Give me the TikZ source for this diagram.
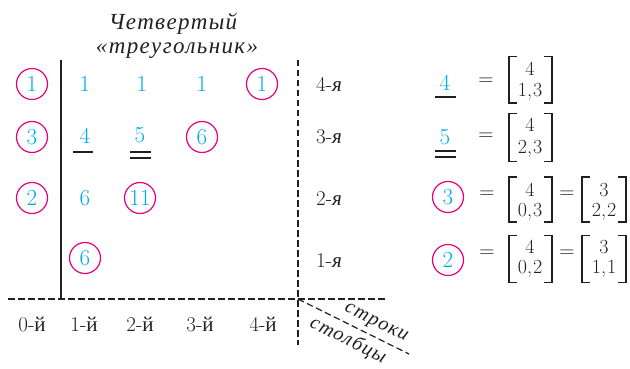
\documentclass[tikz,border=0pt]{standalone}
\usepackage{fontspec}
\newfontfamily\cyr{Liberation Serif}
\newfontfamily\cyrwide{Liberation Serif}[LetterSpace=6]
\definecolor{cy}{RGB}{0,170,235}
\definecolor{mg}{RGB}{230,0,126}
\definecolor{ink}{RGB}{35,31,32}
\begin{document}
\begin{tikzpicture}[x=1pt,y=-1pt,
 num/.style={text=cy,font=\fontsize{23}{25}\selectfont,inner sep=0pt},
 circ/.style={num,draw=mg,circle,line width=1.2pt,minimum size=31pt},
 lbl/.style={text=ink,font=\fontsize{21}{23}\selectfont,inner sep=0pt},
 brt/.style={text=ink,font=\fontsize{20}{22}\selectfont,inner sep=0pt},
 ttl/.style={text=ink,font=\fontsize{23}{26}\cyrwide\itshape,inner sep=0pt},
 axt/.style={text=ink,font=\fontsize{20}{22}\cyrwide\itshape,inner sep=0pt},
 dsh/.style={draw=ink,line width=1.2pt,dash pattern=on 6.5pt off 3.5pt},
 brk/.style={draw=ink,line width=1.3pt},
 ul/.style={draw=ink,line width=1.3pt}]
\useasboundingbox (0,0) rectangle (630,369);
% title
\node[ttl] (t1) at (173,24) {Четвертый};
\node[ttl] (t2) at (177,51) {«треугольник»};
% axes
\coordinate (o) at (298,299);
\coordinate (vtop) at (298,60);
\coordinate (vbot) at (298,345);
\coordinate (hl) at (8,299);
\coordinate (hr) at (388,299);
\coordinate (de) at (409,354);
\coordinate (st) at (61,60);
\coordinate (sb) at (61,299);
\draw[draw=ink,line width=1.2pt] (st) -- (sb);
\draw[dsh] (hl) -- (hr);
\draw[dsh] (vtop) -- (vbot);
\draw[dsh] (o) -- node[pos=0.65,sloped,above=5pt,axt] (rows) {строки}
  node[pos=0.51,sloped,below=5pt,axt] (cols) {столбцы} (de);
% grid numbers
\node[circ] (a40) at (32,84) {1};
\node[num] (a41) at (85,84) {1};
\node[num] (a42) at (142,84) {1};
\node[num] (a43) at (202,84) {1};
\node[circ] (a44) at (262,84) {1};
\node[circ] (a30) at (32,137) {3};
\node[num] (a31) at (85,136) {4};
\node[num] (a32) at (140,135) {5};
\node[circ] (a33) at (202,137) {6};
\node[circ] (a20) at (32,198) {2};
\node[num] (a21) at (85,198) {6};
\node[circ] (a22) at (140,198) {11};
\node[circ] (a11) at (85,258) {6};
\draw[ul] (73,152) -- (93,152);
\draw[ul] (130,152) -- (151,152);
\draw[ul] (130,158) -- (151,158);
% column labels
\node[lbl] (c0) at (32,324) {0-{\cyr й}};
\node[lbl] (c1) at (84,324) {1-{\cyr й}};
\node[lbl] (c2) at (140,324) {2-{\cyr й}};
\node[lbl] (c3) at (200,324) {3-{\cyr й}};
\node[lbl] (c4) at (263,324) {4-{\cyr й}};
% row labels
\node[lbl] (r4) at (329,84) {4-{\cyr\itshape я}};
\node[lbl] (r3) at (329,137) {3-{\cyr\itshape я}};
\node[lbl] (r2) at (329,199) {2-{\cyr\itshape я}};
\node[lbl] (r1) at (329,261) {1-{\cyr\itshape я}};
% equation 1
\node[num] (e1) at (445,83) {4};
\draw[ul] (435,97) -- (456,97);
\node[lbl] (q1) at (486,82) {=};
\draw[brk] (517,56.5) -- (509,56.5) -- (509,103) -- (517,103);
\draw[brk] (544,56.5) -- (552,56.5) -- (552,103) -- (544,103);
\node[brt] (m1a) at (530,69) {4};
\node[brt] (m1b) at (530,92) {1,\kern1pt 3};
% equation 2
\node[num] (e2) at (445,137) {5};
\draw[ul] (435,151) -- (456,151);
\draw[ul] (435,157) -- (456,157);
\node[lbl] (q2) at (486,137) {=};
\draw[brk] (517,113.5) -- (509,113.5) -- (509,161.5) -- (517,161.5);
\draw[brk] (544,113.5) -- (552,113.5) -- (552,161.5) -- (544,161.5);
\node[brt] (m2a) at (530,125) {4};
\node[brt] (m2b) at (530,149) {2,\kern1pt 3};
% equation 3
\node[circ] (e3) at (448,197) {3};
\node[lbl] (q3) at (487,195) {=};
\draw[brk] (517,177) -- (509,177) -- (509,222) -- (517,222);
\draw[brk] (544,177) -- (552,177) -- (552,222) -- (544,222);
\node[brt] (m3a) at (530,190) {4};
\node[brt] (m3b) at (530,212) {0,\kern1pt 3};
\node[lbl] (q3b) at (567,195) {=};
\draw[brk] (590,177) -- (582,177) -- (582,222) -- (590,222);
\draw[brk] (618,177) -- (626,177) -- (626,222) -- (618,222);
\node[brt] (m3c) at (604,190) {3};
\node[brt] (m3d) at (604,212) {2,\kern1pt 2};
% equation 4
\node[circ] (e4) at (448,260) {2};
\node[lbl] (q4) at (487,254) {=};
\draw[brk] (517,235.5) -- (509,235.5) -- (509,282.5) -- (517,282.5);
\draw[brk] (544,235.5) -- (552,235.5) -- (552,282.5) -- (544,282.5);
\node[brt] (m4a) at (530,247) {4};
\node[brt] (m4b) at (530,269) {0,\kern1pt 2};
\node[lbl] (q4b) at (567,254) {=};
\draw[brk] (590,235.5) -- (582,235.5) -- (582,282.5) -- (590,282.5);
\draw[brk] (618,235.5) -- (626,235.5) -- (626,282.5) -- (618,282.5);
\node[brt] (m4c) at (604,247) {3};
\node[brt] (m4d) at (604,269) {1,\kern1pt 1};
\end{tikzpicture}
\end{document}
